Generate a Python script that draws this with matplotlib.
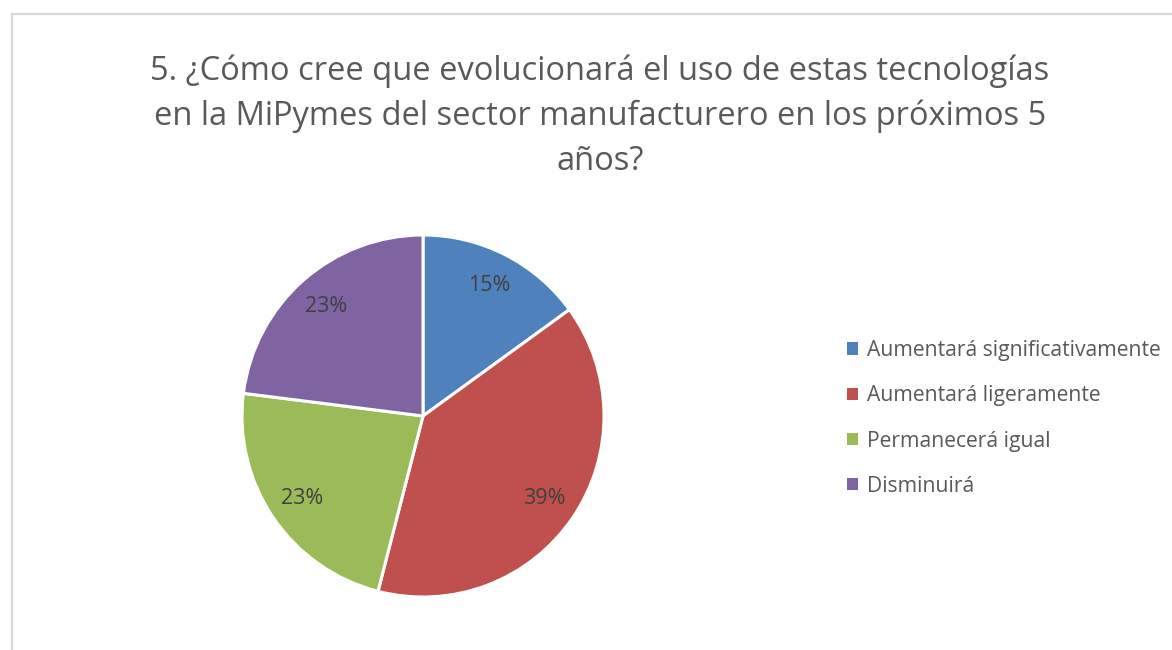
import matplotlib
matplotlib.use("Agg")
import matplotlib.pyplot as plt
from matplotlib.lines import Line2D

categories = ["Aumentará significativamente", "Aumentará ligeramente",
              "Permanecerá igual", "Disminuirá"]
values = [15, 39, 23, 23]
colors = ["#4F81BD", "#C0504D", "#9BBB59", "#8064A2"]
title = ("5. ¿Cómo cree que evolucionará el uso de estas tecnologías\n"
         "en la MiPymes del sector manufacturero en los próximos 5\n"
         "años?")

plt.rcParams['font.family'] = ['Open Sans', 'DejaVu Sans']

W, H = 1172, 650
fig = plt.figure(figsize=(W / 100, H / 100), dpi=100)
fig.patch.set_facecolor("white")

# chart frame (left and top edges visible)
fig.add_artist(Line2D([11.5 / W, 11.5 / W], [0, 1 - 14 / H], color="#D9D9D9", lw=1.6))
fig.add_artist(Line2D([11.5 / W, 1], [1 - 14 / H, 1 - 14 / H], color="#D9D9D9", lw=1.6))

cx, cy, r = 423, 416, 181
ax = fig.add_axes([(cx - r) / W, (H - cy - r) / H, 2 * r / W, 2 * r / H])
wedges, texts, autotexts = ax.pie(
    values, colors=colors, startangle=90, counterclock=False,
    autopct=lambda p: f"{p:.0f}%", pctdistance=0.81, radius=1,
    wedgeprops=dict(edgecolor="white", linewidth=2.2),
    textprops=dict(color="#404040", fontsize=15.5))
ax.set_xlim(-1, 1)
ax.set_ylim(-1, 1)
ax.set_aspect("equal")
ax.axis("off")

fig.text(600 / W, 1 - 54 / H, title, ha="center", va="top", fontsize=23.5,
         color="#595959", linespacing=1.47)

leg = fig.legend(wedges, categories, loc="upper left",
                 bbox_to_anchor=(847 / W, 1 - 340 / H), frameon=False,
                 fontsize=15.2, handlelength=0.5, handleheight=0.5,
                 handletextpad=0.45, labelspacing=1.15, labelcolor="#595959",
                 borderpad=0, borderaxespad=0)
for h in leg.legend_handles:
    h.set_edgecolor("none")

fig.savefig("out.png", dpi=100, facecolor="white")
